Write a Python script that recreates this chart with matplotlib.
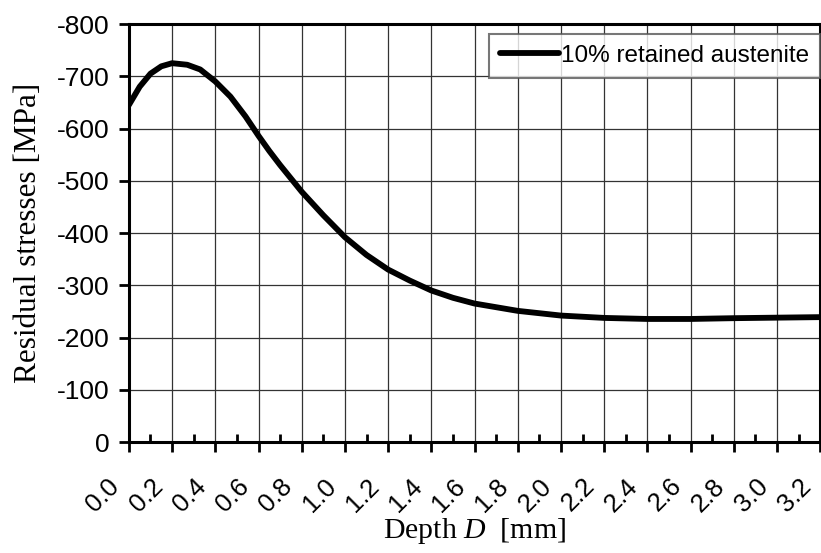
import matplotlib
matplotlib.use("Agg")
import matplotlib.pyplot as plt
import matplotlib.transforms as mtransforms
from matplotlib.ticker import MultipleLocator

plt.rcParams["mathtext.fontset"] = "custom"
plt.rcParams["mathtext.it"] = "Liberation Serif:italic"
plt.rcParams["mathtext.rm"] = "Liberation Serif"

depth = [0.0, 0.05, 0.1, 0.15, 0.2, 0.27, 0.33, 0.4, 0.47, 0.54, 0.6, 0.65, 0.7,
         0.8, 0.9, 1.0, 1.1, 1.2, 1.3, 1.4, 1.5, 1.6, 1.8, 2.0, 2.2, 2.4, 2.6,
         2.8, 3.0, 3.2]
stress = [-645, -680, -705, -719, -725, -722, -713, -690, -661, -623, -586, -557,
          -530, -479, -434, -392, -358, -330, -309, -290, -276, -265, -251, -242,
          -237.5, -235.5, -235.5, -237, -238, -239]
series_label = "10% retained austenite"
x_ticks = [round(0.2 * i, 1) for i in range(17)]
x_tick_labels = [f"{v:.1f}" for v in x_ticks]
y_ticks = [0, -100, -200, -300, -400, -500, -600, -700, -800]

fig = plt.figure(figsize=(8.21, 5.53), dpi=100)
ax = fig.add_axes([0.157, 0.2007, 0.842, 0.7559])

ax.plot(depth, stress, color="black", lw=4.2, label=series_label,
        solid_capstyle="round", solid_joinstyle="round")

ax.set_xlim(0, 3.2)
ax.set_ylim(0, -800)
ax.set_xticks(x_ticks)
ax.set_xticklabels(x_tick_labels, rotation=45, ha="right", va="center",
                   rotation_mode="anchor", family="Liberation Sans", fontsize=18.5)
ax.xaxis.set_minor_locator(MultipleLocator(0.1))
ax.set_yticks(y_ticks)
ax.set_yticklabels([str(v) for v in y_ticks], family="Liberation Sans", fontsize=19)

ax.tick_params(axis="x", which="major", direction="out", length=7, width=2, pad=22)
ax.tick_params(axis="x", which="minor", direction="in", length=6, width=2)
ax.tick_params(axis="y", which="major", direction="out", length=7, width=2, pad=7)

shift = mtransforms.ScaledTranslation(-13 / 100, 0, fig.dpi_scale_trans)
for lab in ax.get_xticklabels():
    lab.set_transform(lab.get_transform() + shift)

for s in ax.spines.values():
    s.set_linewidth(2.2)

ax.grid(True, which="major", color="#333333", lw=0.9)
ax.set_axisbelow(True)

ax.set_xlabel("Depth $\\mathit{D}$  [mm]", family="Liberation Serif", fontsize=21.5, labelpad=0)
ax.set_ylabel("Residual stresses [MPa]", family="Liberation Serif", fontsize=22.5, labelpad=10)

leg = ax.legend(loc="upper right", bbox_to_anchor=(1.0, 1 - 10 / 418),
                prop={"family": "Liberation Sans", "size": 17.5},
                frameon=True, fancybox=False, shadow=False, handlelength=2.4,
                handletextpad=0.1, borderpad=0.45, borderaxespad=0.0)
leg.get_frame().set_edgecolor("#555555")
leg.get_frame().set_linewidth(1.5)

fig.savefig("out.png", dpi=100)
